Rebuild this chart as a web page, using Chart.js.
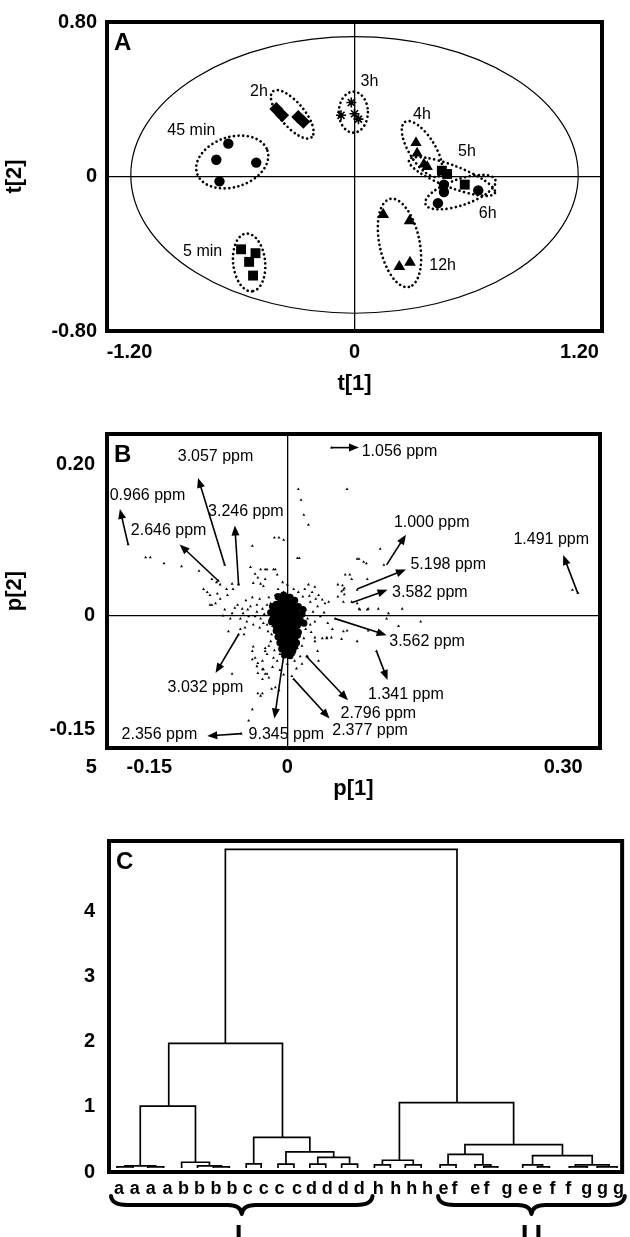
<!DOCTYPE html>
<html><head><meta charset="utf-8">
<script src="https://cdn.jsdelivr.net/npm/chart.js@4.4.1/dist/chart.umd.min.js"></script>
<style>
html,body{margin:0;padding:0;background:#fff;}
#wrap{position:relative;width:630px;height:1237px;overflow:hidden;background:#fff;}
canvas{position:absolute;left:0;}
</style></head><body>
<div id="wrap">
<canvas id="cA" width="630" height="400" style="top:0px"></canvas>
<canvas id="cB" width="630" height="395" style="top:410px"></canvas>
<canvas id="cC" width="630" height="422" style="top:815px"></canvas>
</div>
<script>
// ---------------- Panel A : PCA scores t[1] / t[2] ----------------
const t1_5min = [-0.605,-0.528,-0.562,-0.541];
const t2_5min = [-0.377,-0.397,-0.442,-0.513];
const t1_45min = [-0.673,-0.737,-0.524,-0.720];
const t2_45min = [0.170,0.087,0.072,-0.025];
const t1_2h = [-0.417,-0.386,-0.300,-0.273];
const t2_2h = [0.350,0.317,0.308,0.283];
const t1_3h = [-0.017,-0.072,0.000,0.021];
const t2_3h = [0.383,0.317,0.325,0.297];
const t1_4h = [0.328,0.334,0.370,0.388];
const t2_4h = [0.175,0.120,0.063,0.050];
const t1_5h = [0.466,0.494,0.588];
const t2_5h = [0.030,0.013,-0.042];
const t1_6h = [0.477,0.477,0.445,0.660];
const t2_6h = [-0.042,-0.080,-0.138,-0.072];
const t1_12h = [0.153,0.294,0.239,0.296];
const t2_12h = [-0.197,-0.230,-0.467,-0.445];
const groupNames  = ['5 min','45 min','2h','3h','4h','5h','6h','12h'];
const groupLabelX = [-0.81,-0.87,-0.51,0.08,0.36,0.60,0.71,0.47];
const groupLabelY = [-0.39,0.24,0.44,0.49,0.32,0.13,-0.19,-0.46];
const groupCenterX = [-0.562,-0.652,-0.332,-0.006,0.360,0.520,0.565,0.240];
const groupCenterY = [-0.445,0.075,0.322,0.333,0.142,0.000,-0.081,-0.344];
const xTicksA = [-1.2,0,1.2];
const yTicksA = [-0.8,0,0.8];
const hotelling = {cx:0, cy:0.008, rx:1.193, ry:0.716};

// ---------------- Panel B : loadings p[1] / p[2] ----------------
const loadingsB = [
[-0.173,0.094],[-0.154,0.077],[-0.149,0.077],[-0.134,0.069],[-0.115,0.065],[-0.096,0.059],
[-0.082,0.048],[-0.077,0.044],[-0.073,0.041],[-0.066,0.035],[-0.084,0.014],
[-0.038,0.092],[-0.029,0.061],[-0.022,0.061],[-0.013,0.061],[-0.014,0.103],[-0.009,0.103],[-0.004,0.100],
[0.012,0.167],[0.015,0.153],[0.018,0.133],[0.023,0.120],[0.065,0.167],[0.048,0.222],
[0.013,0.076],[0.078,0.075],[0.086,0.069],[0.101,0.088],[0.105,0.067],
[0.063,0.054],[0.070,0.048],[0.060,0.040],[0.062,0.036],[0.059,0.032],[0.062,0.028],
[0.087,0.048],[0.076,0.034],[0.070,0.018],[0.078,0.009],[0.088,0.009],[0.099,0.009],[0.110,0.003],[0.125,0.009],
[0.108,-0.004],[0.121,-0.014],[0.145,-0.008],[0.065,-0.020],[0.088,-0.020],[0.097,-0.047],
[0.310,0.034],[0.316,0.030],
[0.030,-0.029],[0.043,-0.029],[0.048,-0.029],[0.059,-0.031],[0.034,-0.060],[0.005,-0.080],
[-0.064,-0.021],[-0.047,-0.025],[-0.038,-0.058],[-0.032,-0.063],[-0.027,-0.071],[-0.024,-0.077],[-0.020,-0.082],
[-0.032,-0.103],[-0.029,-0.106],[-0.027,-0.103],[-0.038,-0.124],[-0.042,-0.139],[-0.050,-0.156],
[-0.017,-0.097],[-0.013,-0.095],[-0.009,-0.099],[-0.024,-0.047],[-0.004,-0.054],
[-0.068,0.067],[-0.053,0.042],[-0.075,0.046],[0.052,-0.004],[0.021,-0.054],[0.007,-0.084],[-0.053,-0.025],
[0.011,0.076],[-0.040,0.064],[-0.024,0.061],[-0.015,0.061],[-0.011,0.054],
[-0.035,0.055],[-0.032,0.050],[-0.029,0.042],[-0.026,0.039],[-0.037,0.043],[-0.024,0.048],
[-0.053,0.041],[-0.059,0.035],[-0.060,0.042],[-0.065,0.027],[-0.073,0.022],[-0.078,0.016],[-0.082,0.014],[-0.084,0.027],[-0.076,0.029],
[-0.054,0.014],[-0.049,0.009],[-0.043,0.008],[-0.040,0.012],[-0.033,0.014],[-0.027,0.009],[-0.022,0.014],[-0.018,0.016],
[-0.033,0.005],[-0.035,-0.001],[-0.029,-0.004],[-0.042,-0.001],[-0.048,0.003],[-0.051,-0.004],[-0.060,0.003],[-0.062,-0.004],
[-0.022,-0.012],[-0.016,-0.014],[-0.021,-0.021],[-0.026,-0.010],
[-0.010,0.035],[-0.004,0.031],[0.000,0.041],[-0.005,0.044],[-0.013,0.027],
[0.007,0.035],[0.012,0.031],[0.017,0.025],[0.023,0.041],[0.027,0.031],[0.030,0.038],[0.034,0.027],[0.038,0.021],
[0.041,0.016],[0.045,0.018],[0.025,0.018],[0.033,0.012],[0.028,0.005],[0.022,-0.004],[0.030,-0.008],[0.036,-0.001],[0.025,-0.012],
[-0.018,-0.034],[-0.024,-0.043],[-0.022,-0.051],[-0.015,-0.056],[-0.027,-0.060],[-0.033,-0.067],[-0.026,-0.071],
[-0.032,-0.076],[-0.022,-0.077],[-0.037,-0.041],[-0.038,-0.047],[-0.035,-0.056],[-0.011,-0.060],[-0.008,-0.051],
[0.003,-0.047],[0.011,-0.043],[0.014,-0.054],[0.022,-0.054],[0.033,-0.047],[0.038,-0.030],[0.043,-0.030],
[0.049,-0.018],[0.061,-0.021],[0.076,-0.034],[0.030,-0.034],[0.000,-0.064],
[0.055,0.041],[0.061,0.034],[0.055,0.025],[0.061,0.018],[0.076,0.075],[0.083,0.071],[0.068,0.054],
[0.076,0.016],[0.079,0.008],[0.087,0.008],
[-0.087,0.031],[-0.091,0.035],[-0.051,-0.018],[-0.060,-0.077],[-0.027,-0.084],
[-0.045,0.020],[-0.038,0.024],[-0.030,0.022],[-0.020,0.024],[-0.044,-0.008],[-0.037,-0.012],[-0.030,-0.016],
[-0.025,0.002],[-0.019,-0.004],[-0.057,0.010],[-0.068,0.008],[-0.070,0.000],[-0.046,-0.016],
[0.020,0.008],[0.024,0.026],[0.019,0.035],[0.031,0.022],[0.040,0.004],[0.044,-0.010],[0.020,-0.018],[0.018,-0.030],
[0.026,-0.022],[0.016,-0.040],[-0.017,-0.025],[-0.020,-0.040],[-0.014,-0.046],[-0.016,-0.068],[-0.008,-0.072],
[0.008,-0.060],[0.016,-0.064],[0.010,-0.070],[-0.004,-0.078]
];
const loadingsCore = [
[-0.010,0.025],[-0.004,0.027],[0.003,0.024],[0.008,0.020],[-0.012,0.015],[-0.006,0.016],[0.000,0.018],[0.006,0.014],[0.012,0.012],
[-0.014,0.006],[-0.008,0.008],[-0.002,0.008],[0.004,0.006],[0.010,0.004],[0.016,0.002],
[-0.015,-0.003],[-0.009,-0.002],[-0.003,-0.001],[0.003,-0.003],[0.009,-0.004],[0.014,-0.006],
[-0.013,-0.012],[-0.007,-0.010],[-0.001,-0.011],[0.005,-0.012],[0.011,-0.013],
[-0.012,-0.020],[-0.006,-0.019],[0.000,-0.020],[0.006,-0.021],[0.012,-0.022],
[-0.010,-0.028],[-0.004,-0.028],[0.002,-0.029],[0.008,-0.030],
[-0.008,-0.036],[-0.002,-0.037],[0.004,-0.038],[0.010,-0.036],
[-0.006,-0.044],[0.000,-0.045],[0.006,-0.046],
[-0.003,-0.052],[0.003,-0.053],
[-0.007,0.022],[0.000,0.023],[0.006,0.019],[-0.011,0.011],[-0.005,0.012],[0.002,0.012],[0.009,0.009],
[-0.012,0.002],[-0.006,0.003],[0.001,0.003],[0.007,0.001],[0.013,-0.001],[-0.011,-0.007],[-0.005,-0.006],
[0.001,-0.007],[0.007,-0.008],[0.012,-0.009],[-0.010,-0.016],[-0.004,-0.015],[0.002,-0.016],[0.008,-0.017],
[-0.008,-0.024],[-0.002,-0.024],[0.005,-0.025],[0.011,-0.026],[-0.006,-0.032],[0.000,-0.033],[0.006,-0.033],
[-0.004,-0.040],[0.002,-0.041],[0.008,-0.041],[-0.001,-0.048],[0.005,-0.049],
[-0.018,0.004],[-0.017,-0.008],[0.018,-0.010],[0.017,0.008],[-0.016,0.012]
];
const ppmLabels = ['1.056 ppm','3.057 ppm','0.966 ppm','3.246 ppm','2.646 ppm','1.000 ppm','5.198 ppm','3.582 ppm',
                   '1.491 ppm','3.562 ppm','1.341 ppm','2.796 ppm','2.377 ppm','9.345 ppm','2.356 ppm','3.032 ppm'];
const arrowTailX = [0.048,-0.068,-0.173,-0.053,-0.075,0.108,0.076,0.070,0.316,0.052,0.097,0.021,0.007,-0.004,-0.050,-0.053];
const arrowTailY = [0.222,0.067,0.094,0.042,0.046,0.067,0.035,0.017,0.029,-0.004,-0.047,-0.054,-0.084,-0.054,-0.156,-0.025];
const arrowHeadX = [0.078,-0.097,-0.182,-0.057,-0.117,0.129,0.129,0.109,0.300,0.108,0.109,0.066,0.046,-0.014,-0.087,-0.078];
const arrowHeadY = [0.222,0.182,0.141,0.119,0.094,0.107,0.061,0.034,0.080,-0.026,-0.085,-0.112,-0.136,-0.136,-0.159,-0.076];
const ppmLabelX = [0.122,-0.078,-0.152,-0.045,-0.129,0.157,0.175,0.155,0.287,0.152,0.129,0.099,0.090,-0.001,-0.139,-0.089];
const ppmLabelY = [0.217,0.210,0.159,0.137,0.112,0.123,0.067,0.031,0.101,-0.034,-0.105,-0.129,-0.152,-0.157,-0.157,-0.095];
const xTicksB = [-0.15,0,0.30];
const yTicksB = [-0.15,0,0.20];

// ---------------- Panel C : dendrogram ----------------
const leafLabels = ['a','a','a','a','b','b','b','b','c','c','c','c','d','d','d','d','h','h','h','h',
                    'e','f','e','f','g','e','e','f','f','g','g','g'];
const leafPos = [1,2,3,4.06,5.06,6.06,7.1,8.1,9.1,10.1,11.1,12.2,13.1,14.1,15.1,16.1,17.3,18.4,19.4,20.4,
                 21.4,22.1,23.4,24.1,25.4,26.4,27.3,28.25,29.25,30.4,31.4,32.4];
const linkLeft  = [7.69,4.13,2.34,1.38,0.88,2.81,4.94,5.94,6.94,9.47,9.0,11.5,11.0,13.5,13.0,15.0,18.63,17.56,17.06,19.0,22.75,21.69,21.19,23.38,23.94,27.0,26.38,27.31,29.69,29.31,31.06];
const linkRight = [22.25,11.28,5.81,3.31,1.88,3.81,6.69,7.44,7.94,13.0,9.94,14.5,12.0,15.5,14.0,16.0,25.81,19.5,18.06,20.0,28.88,23.88,22.19,24.38,24.81,30.75,27.63,28.06,31.81,30.44,32.31];
const linkHeight= [4.95,1.975,1.01,0.095,0.08,0.08,0.15,0.095,0.08,0.53,0.125,0.31,0.12,0.225,0.12,0.12,1.065,0.18,0.11,0.11,0.42,0.27,0.11,0.11,0.08,0.25,0.11,0.08,0.11,0.08,0.08];
const linkLeftBase  = [1.975,1.01,0.095,0.08,0.06,0.06,0.06,0.06,0.06,0.125,0.06,0.12,0.06,0.12,0.06,0.06,0.18,0.11,0.06,0.06,0.27,0.11,0.06,0.06,0.06,0.11,0.06,0.06,0.08,0.06,0.06];
const linkRightBase = [1.065,0.53,0.15,0.08,0.06,0.06,0.095,0.08,0.06,0.31,0.06,0.225,0.06,0.12,0.06,0.06,0.42,0.11,0.06,0.06,0.25,0.11,0.06,0.08,0.06,0.11,0.08,0.06,0.08,0.06,0.06];
const clusterNames = ['I','II'];
const clusterFrom = [0.5,21.06];
const clusterTo   = [16.94,32.8];
const yTicksC = [0,1,2,3,4];

// ---------------- helpers ----------------
const FONT = '"Liberation Sans", Arial, Helvetica, sans-serif';
const BOLD = (s)=>({family:FONT,size:s,weight:'bold'});
function pts(xs,ys){return xs.map((x,i)=>({x:x,y:ys[i]}));}
function fmt(v,d){return v===0?'0':v.toFixed(d);}
const frame = {id:'frame', afterDraw(c){const a=c.chartArea,x=c.ctx;x.save();x.lineWidth=4;x.strokeStyle='#000';
  x.strokeRect(a.left,a.top,a.right-a.left,a.bottom-a.top);x.restore();}};
function zeroGrid(ctx){return (ctx.tick && ctx.tick.value===0)?'#000':'rgba(0,0,0,0)';}
function panelLetter(c,txt){const x=c.ctx,a=c.chartArea;x.save();x.fillStyle='#000';x.font='bold 24px '+FONT;
  x.textAlign='left';x.textBaseline='middle';x.fillText(txt,a.left+7,a.top+21);x.restore();}
function axisX(min,max,ticks,dec,title,h,pad){return {type:'linear',min:min,max:max,
  afterBuildTicks:s=>{s.ticks=ticks.map(v=>({value:v}));},
  ticks:{callback:v=>fmt(v,dec),font:BOLD(20),color:'#000',padding:pad,maxRotation:0,autoSkip:false},
  grid:{drawTicks:false,color:zeroGrid,lineWidth:1.3},border:{display:false},
  title:{display:!!title,text:title,font:BOLD(22),color:'#000',padding:{top:0,bottom:3}},
  afterFit:s=>{s.height=h;}};}
function axisY(min,max,ticks,dec,title,w,pad){return {type:'linear',min:min,max:max,
  afterBuildTicks:s=>{s.ticks=ticks.map(v=>({value:v}));},
  ticks:{callback:v=>fmt(v,dec),font:BOLD(20),color:'#000',padding:pad,autoSkip:false},
  grid:{drawTicks:false,color:zeroGrid,lineWidth:1.3},border:{display:false},
  title:{display:!!title,text:title,font:BOLD(22),color:'#000',padding:{top:2,bottom:0}},
  afterFit:s=>{s.width=w;}};}
const base = {responsive:false,animation:false,devicePixelRatio:1,
  plugins:{legend:{display:false},tooltip:{enabled:false}}};

// ---------------- Chart A ----------------
function dsA(xs,ys,style,r){return {data:pts(xs,ys),pointStyle:style,pointRadius:r,backgroundColor:'#000',
  borderColor:'#000',borderWidth:style==='star'?1.6:0};}
const groupEllipseShape = [ // a, b (px), rotation deg
  [29,16,84],[37,25,-18],[30,12,50],[14.5,20.5,0],[32,13,58],[46,11,21],[37,13,-19],[45,20,78]];
new Chart(document.getElementById('cA'),{type:'scatter',
  data:{datasets:[
    dsA(t1_5min,t2_5min,'rect',7),
    dsA(t1_45min,t2_45min,'circle',5.2),
    dsA(t1_2h,t2_2h,'rectRot',7),
    dsA(t1_3h,t2_3h,'star',5),
    dsA(t1_4h,t2_4h,'triangle',6.5),
    dsA(t1_5h,t2_5h,'rect',7),
    dsA(t1_6h,t2_6h,'circle',5.2),
    dsA(t1_12h,t2_12h,'triangle',6.8)]},
  options:Object.assign({},base,{layout:{padding:{top:17,right:28,left:0,bottom:0}},
    scales:{x:axisX(-1.32,1.32,xTicksA,2,'t[1]',69,9),y:axisY(-0.8,0.8,yTicksA,2,'t[2]',107,10)}}),
  plugins:[frame,{id:'pA',
    beforeDatasetsDraw(c){const xs=c.scales.x,ys=c.scales.y,x=c.ctx;x.save();
      x.lineWidth=1.2;x.strokeStyle='#000';x.beginPath();
      x.ellipse(xs.getPixelForValue(hotelling.cx),ys.getPixelForValue(hotelling.cy),
        Math.abs(xs.getPixelForValue(hotelling.rx)-xs.getPixelForValue(0)),
        Math.abs(ys.getPixelForValue(hotelling.ry)-ys.getPixelForValue(0)),0,0,2*Math.PI);x.stroke();
      x.lineWidth=2.7;x.lineCap='round';x.setLineDash([0.01,4.6]);
      groupCenterX.forEach((gx,i)=>{const s=groupEllipseShape[i];x.beginPath();
        x.ellipse(xs.getPixelForValue(gx),ys.getPixelForValue(groupCenterY[i]),s[0],s[1],s[2]*Math.PI/180,0,2*Math.PI);x.stroke();});
      x.restore();},
    afterDraw(c){const xs=c.scales.x,ys=c.scales.y,x=c.ctx;x.save();x.fillStyle='#000';
      x.font='16px '+FONT;x.textAlign='center';x.textBaseline='middle';
      groupNames.forEach((n,i)=>x.fillText(n,xs.getPixelForValue(groupLabelX[i]),ys.getPixelForValue(groupLabelY[i])));
      x.restore();panelLetter(c,'A');}}]});

// ---------------- Chart B ----------------
new Chart(document.getElementById('cB'),{type:'scatter',
  data:{datasets:[
    {data:loadingsB.map(p=>({x:p[0],y:p[1]})),pointStyle:'triangle',pointRadius:1.7,backgroundColor:'#000',borderWidth:0},
    {data:loadingsCore.map(p=>({x:p[0],y:p[1]})),pointStyle:'circle',pointRadius:3.6,backgroundColor:'#000',borderWidth:0}]},
  options:Object.assign({},base,{layout:{padding:{top:20,right:30,left:0,bottom:0}},
    scales:{x:axisX(-0.196,0.34,xTicksB,2,'p[1]',57,7),y:axisY(-0.175,0.24,yTicksB,2,'p[2]',107,12)}}),
  plugins:[frame,{id:'pB',
    afterDraw(c){const xs=c.scales.x,ys=c.scales.y,x=c.ctx,a=c.chartArea;x.save();
      x.fillStyle='#000';x.strokeStyle='#000';x.lineWidth=1.6;
      ppmLabels.forEach((t,i)=>{
        const x1=xs.getPixelForValue(arrowTailX[i]),y1=ys.getPixelForValue(arrowTailY[i]);
        const x2=xs.getPixelForValue(arrowHeadX[i]),y2=ys.getPixelForValue(arrowHeadY[i]);
        const ang=Math.atan2(y2-y1,x2-x1),L=10,W=4;
        x.beginPath();x.moveTo(x1,y1);x.lineTo(x2-L*0.7*Math.cos(ang),y2-L*0.7*Math.sin(ang));x.stroke();
        x.beginPath();x.moveTo(x2,y2);
        x.lineTo(x2-L*Math.cos(ang)+W*Math.sin(ang),y2-L*Math.sin(ang)-W*Math.cos(ang));
        x.lineTo(x2-L*Math.cos(ang)-W*Math.sin(ang),y2-L*Math.sin(ang)+W*Math.cos(ang));
        x.closePath();x.fill();});
      x.font='16px '+FONT;x.textAlign='center';x.textBaseline='middle';
      ppmLabels.forEach((t,i)=>x.fillText(t,xs.getPixelForValue(ppmLabelX[i]),ys.getPixelForValue(ppmLabelY[i])));
      x.font='bold 20px '+FONT;x.fillText('5',xs.getPixelForValue(-0.213),a.bottom+19);
      x.restore();panelLetter(c,'B');}}]});

// ---------------- Chart C ----------------
const dendroSets = linkLeft.map((l,i)=>({data:[{x:l,y:linkLeftBase[i]},{x:l,y:linkHeight[i]},
  {x:linkRight[i],y:linkHeight[i]},{x:linkRight[i],y:linkRightBase[i]}],
  showLine:true,pointRadius:0,borderColor:'#000',borderWidth:1.7,tension:0,fill:false}));
new Chart(document.getElementById('cC'),{type:'scatter',
  data:{datasets:dendroSets},
  options:Object.assign({},base,{layout:{padding:{top:22,right:5,left:0,bottom:0}},
    scales:{
      x:{type:'linear',min:0.375,max:32.63,afterBuildTicks:s=>{s.ticks=leafPos.map(v=>({value:v}));},
        ticks:{callback:(v,i)=>leafLabels[i],font:BOLD(18),color:'#000',padding:6,maxRotation:0,autoSkip:false},
        grid:{display:false,drawTicks:false},border:{display:false},afterFit:s=>{s.height=65;}},
      y:{type:'linear',min:0,max:5.08,afterBuildTicks:s=>{s.ticks=yTicksC.map(v=>({value:v}));},
        ticks:{callback:v=>String(v),font:BOLD(20),color:'#000',padding:14,autoSkip:false},
        grid:{display:false,drawTicks:false},border:{display:false},afterFit:s=>{s.width=109;}}}}),
  plugins:[frame,{id:'pC',
    afterDraw(c){const xs=c.scales.x,x=c.ctx,a=c.chartArea;x.save();
      x.strokeStyle='#000';x.fillStyle='#000';x.lineWidth=4;x.lineCap='round';x.lineJoin='round';
      const y0=a.bottom+24,y1=a.bottom+33,y2=a.bottom+42;
      clusterNames.forEach((n,i)=>{const xl=xs.getPixelForValue(clusterFrom[i]),xr=xs.getPixelForValue(clusterTo[i]),xm=(xl+xr)/2;
        x.beginPath();x.moveTo(xl,y0);x.quadraticCurveTo(xl+1,y1,xl+16,y1);x.lineTo(xm-14,y1);
        x.quadraticCurveTo(xm-1,y1,xm,y2);x.quadraticCurveTo(xm+1,y1,xm+14,y1);x.lineTo(xr-16,y1);
        x.quadraticCurveTo(xr-1,y1,xr,y0);x.stroke();
        x.font='bold 28px '+FONT;x.textAlign='center';x.textBaseline='top';
        try{x.letterSpacing='6px';}catch(e){}
        x.fillText(n,xm+(n.length>1?3:0),a.bottom+50);
        try{x.letterSpacing='0px';}catch(e){}});
      x.restore();panelLetter(c,'C');}}]});
</script>
</body></html>
